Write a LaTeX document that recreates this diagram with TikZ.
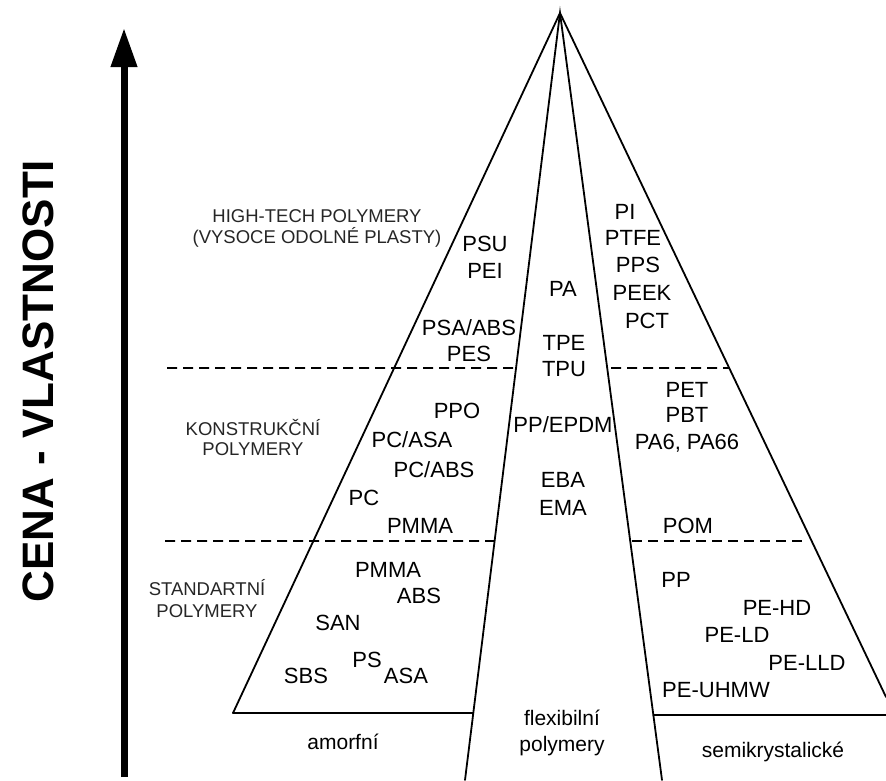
\documentclass[tikz,border=0pt]{standalone}
\usepackage{fontspec}
\setmainfont{Liberation Sans}
\usetikzlibrary{arrows.meta,calc}
\begin{document}
\begin{tikzpicture}[x=1pt,y=-1pt,
  edge/.style={line width=1.8pt, line cap=round, line join=miter},
  level/.style={line width=1.8pt, dash pattern=on 10pt off 6pt},
  lbl/.style={font=\fontsize{22}{24}\selectfont, anchor=base, inner sep=0pt},
  grp/.style={font=\fontsize{18.5}{20}\selectfont, anchor=base, inner sep=0pt, text=black!85},
  bottomlbl/.style={font=\fontsize{21}{24}\selectfont, anchor=base, inner sep=0pt}]
\useasboundingbox (0,0) rectangle (886,780);

% pyramid corners
\coordinate (apex) at (560,13);
\coordinate (lo) at (233,713);
\coordinate (ro) at (886,697);
\coordinate (li) at (465,780);
\coordinate (ri) at (662,780);
\coordinate (lb) at ($(apex)!0.9126!(li)$);
\coordinate (rb) at ($(apex)!0.9153!(ri)$);
\coordinate (re) at (886,715);

% outline of the pyramid and its three sectors
\draw[edge] (lo) -- (apex) -- (ro);
\draw[edge] (li) -- (apex) -- (ri);
\draw[edge] (lo) -- (lb);
\draw[edge] (rb) -- (re);

% level boundaries
\coordinate (u1) at (167,368);
\coordinate (u2) at ($(apex)!0.4628!(li)$);
\coordinate (u3) at ($(apex)!0.4628!(ri)+(4,0)$);
\coordinate (u4) at ($(apex)!0.519!(ro)$);
\coordinate (d1) at (165,541);
\coordinate (d2) at ($(apex)!0.6884!(li)$);
\coordinate (d3) at (632,541);
\coordinate (d4) at (802,541);
\draw[level] (u1) -- (u2);
\draw[level] (u3) -- (u4);
\draw[level] (d1) -- (d2);
\draw[level] (d3) -- (d4);

% price / properties axis
\coordinate (axb) at (124,777);
\coordinate (axt) at (124,28);
\draw[line width=7pt, -{Triangle[length=39pt,width=25pt]}] (axb) -- (axt);
\node[rotate=90, font=\bfseries\fontsize{44}{44}\selectfont, inner sep=0pt] (axis) at (38,381) {CENA - VLASTNOSTI};

% level names
\node[grp] (g1a) at (317,222) {HIGH-TECH POLYMERY};
\node[grp] (g1b) at (317,243) {(VYSOCE ODOLNÉ PLASTY)};
\node[grp] (g2a) at (253,435) {KONSTRUKČNÍ};
\node[grp] (g2b) at (253,455) {POLYMERY};
\node[grp] (g3a) at (207,595) {STANDARTNÍ};
\node[grp] (g3b) at (207,617) {POLYMERY};

% amorphous sector
\node[lbl] (psu) at (485,251) {PSU};
\node[lbl] (pei) at (485,278) {PEI};
\node[lbl] (psaabs) at (469,335) {PSA/ABS};
\node[lbl] (pes) at (469,361) {PES};
\node[lbl] (ppo) at (457,418) {PPO};
\node[lbl] (pcasa) at (412,447) {PC/ASA};
\node[lbl] (pcabs) at (434,477) {PC/ABS};
\node[lbl] (pc) at (364,505) {PC};
\node[lbl] (pmmaA) at (420,533) {PMMA};
\node[lbl] (pmmaB) at (388,577) {PMMA};
\node[lbl] (abs) at (419,603) {ABS};
\node[lbl] (san) at (338,630) {SAN};
\node[lbl] (ps) at (367,667) {PS};
\node[lbl] (sbs) at (306,683) {SBS};
\node[lbl] (asa) at (406,683) {ASA};

% flexible sector
\node[lbl] (pa) at (563,296) {PA};
\node[lbl] (tpe) at (564,350) {TPE};
\node[lbl] (tpu) at (564,376) {TPU};
\node[lbl] (ppepdm) at (563,432) {PP/EPDM};
\node[lbl] (eba) at (563,487) {EBA};
\node[lbl] (ema) at (563,515) {EMA};

% semicrystalline sector
\node[lbl] (pi) at (625,219) {PI};
\node[lbl] (ptfe) at (633,245) {PTFE};
\node[lbl] (pps) at (638,272) {PPS};
\node[lbl] (peek) at (642,300) {PEEK};
\node[lbl] (pct) at (647,328) {PCT};
\node[lbl] (pet) at (687,397) {PET};
\node[lbl] (pbt) at (687,422) {PBT};
\node[lbl] (pa6) at (687,449) {PA6, PA66};
\node[lbl] (pom) at (688,533) {POM};
\node[lbl] (pp) at (676,587) {PP};
\node[lbl] (pehd) at (777,615) {PE-HD};
\node[lbl] (peld) at (737,642) {PE-LD};
\node[lbl] (pelld) at (807,670) {PE-LLD};
\node[lbl] (peuhmw) at (716,697) {PE-UHMW};

% sector names
\node[bottomlbl] (amorf) at (343,749) {amorfní};
\node[bottomlbl] (flex1) at (562,725) {flexibilní};
\node[bottomlbl] (flex2) at (562,751) {polymery};
\node[bottomlbl] (semi) at (773,757) {semikrystalické};
\end{tikzpicture}
\end{document}
